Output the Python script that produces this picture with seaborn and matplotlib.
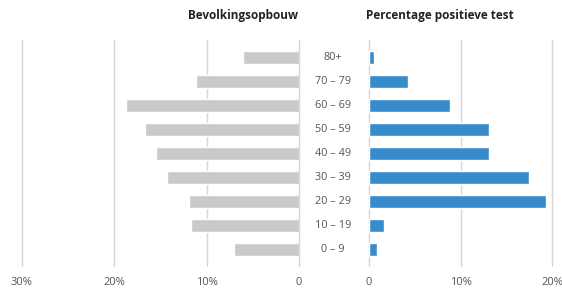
import numpy as np
import pandas as pd
import matplotlib
matplotlib.use('Agg')
import matplotlib.pyplot as plt
import matplotlib.transforms as mtransforms
import seaborn as sns

# leeftijdsgroepen, van boven naar beneden
age_groups = ['80+', '70 – 79', '60 – 69', '50 – 59', '40 – 49',
              '30 – 39', '20 – 29', '10 – 19', '0 – 9']
# bevolkingsopbouw (% van bevolking)
population = [6.1, 11.1, 18.7, 16.7, 15.5, 14.3, 11.9, 11.7, 7.0]
# percentage positieve test
positive = [0.6, 4.3, 8.9, 13.1, 13.1, 17.5, 19.3, 1.6, 0.9]

left_ticks = [30, 20, 10, 0]
left_ticklabels = ['30%', '20%', '10%', '0']
right_ticks = [0, 10, 20]
right_ticklabels = ['0', '10%', '20%']

df = pd.DataFrame({'age': age_groups, 'pop': population, 'pos': positive})

sns.set_style('white')
plt.rcParams['font.family'] = ['Open Sans', 'DejaVu Sans']

grey_bar = '#c9c9c9'
blue_bar = '#368bcb'
grid_col = '#d6d6d6'
text_col = '#555555'

fig = plt.figure(figsize=(5.62, 2.91), dpi=100)
W, H = 562, 291
bottom = 1 - 266 / H
top = 1 - 40 / H
ax_l = fig.add_axes([21.5 / W, bottom, (299 - 21.5) / W, top - bottom])
ax_r = fig.add_axes([369 / W, bottom, (552 - 369) / W, top - bottom])

sns.barplot(data=df, x='pop', y='age', color=grey_bar, width=0.57,
            orient='h', ax=ax_l, saturation=1)
sns.barplot(data=df, x='pos', y='age', color=blue_bar, width=0.57,
            orient='h', ax=ax_r, saturation=1)

n = len(age_groups)
for ax in (ax_l, ax_r):
    ax.set_ylim(n - 1 + 0.69, -0.73)
    ax.set_xlabel('')
    ax.set_ylabel('')
    ax.set_yticks([])
    for s in ax.spines.values():
        s.set_visible(False)
    ax.set_axisbelow(True)
    ax.tick_params(axis='x', length=0, pad=8, labelsize=8, labelcolor=text_col)

ax_l.set_xlim(30, 0)
ax_l.set_xticks(left_ticks)
ax_l.set_xticklabels(left_ticklabels)
ax_r.set_xlim(0, 20)
ax_r.set_xticks(right_ticks)
ax_r.set_xticklabels(right_ticklabels)

for ax in (ax_l, ax_r):
    ax.grid(axis='x', color=grid_col, linewidth=1)
    for gl in ax.xaxis.get_gridlines():
        gl.set_clip_on(False)

# labels van de leeftijdsgroepen in het midden
trans = mtransforms.blended_transform_factory(fig.transFigure, ax_l.transData)
for i, lab in enumerate(age_groups):
    fig.text(333 / W, i, lab, transform=trans, ha='center', va='center',
             fontsize=7.8, color=text_col)

fig.text(298 / W, 1 - 15 / H, 'Bevolkingsopbouw', ha='right', va='center',
         fontsize=8.5, fontweight='bold', color='#222222')
fig.text(366 / W, 1 - 15 / H, 'Percentage positieve test', ha='left',
         va='center', fontsize=8.5, fontweight='bold', color='#222222')

fig.savefig('out.png', dpi=100)
